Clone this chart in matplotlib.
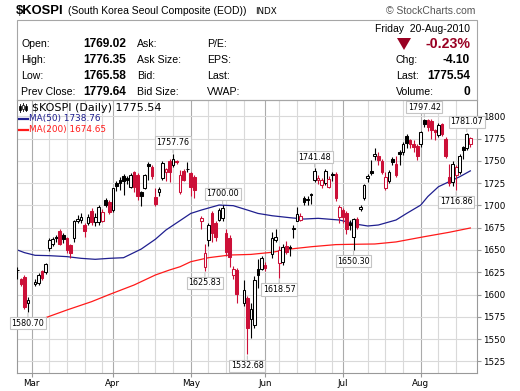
import numpy as np
import pandas as pd
import matplotlib
matplotlib.use("Agg")
import matplotlib.pyplot as plt
from matplotlib.patches import Rectangle, Polygon

dates = ["2010-02-23","2010-02-24","2010-02-25","2010-02-26",
         "2010-03-02","2010-03-03","2010-03-04","2010-03-05","2010-03-08","2010-03-09","2010-03-10","2010-03-11","2010-03-12",
         "2010-03-15","2010-03-16","2010-03-17","2010-03-18","2010-03-19","2010-03-22","2010-03-23","2010-03-24","2010-03-25",
         "2010-03-26","2010-03-29","2010-03-30","2010-03-31",
         "2010-04-01","2010-04-02","2010-04-05","2010-04-06","2010-04-07","2010-04-08","2010-04-09","2010-04-12","2010-04-13",
         "2010-04-14","2010-04-15","2010-04-16","2010-04-19","2010-04-20","2010-04-21","2010-04-22","2010-04-23","2010-04-26",
         "2010-04-27","2010-04-28","2010-04-29","2010-04-30",
         "2010-05-03","2010-05-04","2010-05-06","2010-05-07","2010-05-10","2010-05-11","2010-05-12","2010-05-13","2010-05-14",
         "2010-05-17","2010-05-18","2010-05-19","2010-05-20","2010-05-24","2010-05-25","2010-05-26","2010-05-27","2010-05-28",
         "2010-05-31",
         "2010-06-01","2010-06-03","2010-06-04","2010-06-07","2010-06-08","2010-06-09","2010-06-10","2010-06-11","2010-06-14",
         "2010-06-15","2010-06-16","2010-06-17","2010-06-18","2010-06-21","2010-06-22","2010-06-23","2010-06-24","2010-06-25",
         "2010-06-28","2010-06-29","2010-06-30",
         "2010-07-01","2010-07-02","2010-07-05","2010-07-06","2010-07-07","2010-07-08","2010-07-09","2010-07-12","2010-07-13",
         "2010-07-14","2010-07-15","2010-07-16","2010-07-19","2010-07-20","2010-07-21","2010-07-22","2010-07-23","2010-07-26",
         "2010-07-27","2010-07-28","2010-07-29","2010-07-30",
         "2010-08-02","2010-08-03","2010-08-04","2010-08-05","2010-08-06","2010-08-09","2010-08-10","2010-08-11","2010-08-12",
         "2010-08-13","2010-08-16","2010-08-17","2010-08-18","2010-08-19","2010-08-20"]

opens = [1627,1617,1620,1591,
         1612,1613,1626,1625,1652,1657,1665,1671,1667,
         1663,1655,1663,1682,1684,1678,1680,1694,1681,
         1681,1683,1706,1704,
         1695,1725,1729,1733,1731,1721,1737,1734,1715,
         1720,1747,1743,1709,1715,1731,1737,1750,1745,
         1750,1715,1739,1740.5,
         1736,1732,1682,1631,1661,1692,1680,1684,1686,
         1669,1663,1622,1628,1590,1596,1573,1566,1629,
         1629,
         1633,1645,1661,1635,1637,1654,1653,1673,1683,
         1684,1708,1707.5,1712.5,1729,1728,1723,1725,1721,
         1735,1735,1687,
         1695,1692,1680,1665,1685,1696,1708,1731,1738.5,
         1755,1755,1750,1719,1727,1752,1747,1760,1760,
         1778,1773,1769,1767,
         1769,1796,1796,1795,1784.5,1779,1791,1775,1732,
         1726,1734,1737.5,1765.6,1764,1769.02]

highs = [1631,1619,1622,1597,
         1617,1624,1627,1635,1663,1665,1667,1673,1669,
         1665,1657,1684,1689,1691,1680,1690,1697,1692,
         1700,1696,1708,1706,
         1720,1727,1732,1735,1733,1736,1739,1736,1716,
         1735,1749,1745,1720,1721,1750,1742,1752,1757.76,
         1751,1740,1741,1749,
         1738,1734,1688,1657,1680,1694,1683,1697,1700,
         1674,1667,1632,1630,1616,1598,1590,1621,1640,
         1643,
         1636,1670,1673,1654,1657,1660,1656,1678,1698,
         1692,1710,1710,1714,1741.48,1734,1731,1741,1733,
         1738,1737,1700,
         1697,1694,1684,1686,1687,1700,1724,1735,1751,
         1764,1760,1752,1738,1740,1754,1756,1762,1771,
         1780,1775,1773,1769,
         1784,1797.42,1797,1797,1786,1792,1793,1777,1747,
         1750,1745,1758,1767,1781.07,1776.35]

lows = [1617,1609,1584,1580.70,
        1609,1611,1616,1623,1649,1654,1659,1655,1658,
        1647,1641,1659,1680,1680,1664,1678,1678,1677,
        1678,1681,1698,1690,
        1693,1716,1717,1712,1724,1719,1715,1706,1699,
        1718,1729,1730,1699,1711,1729,1727,1726,1743,
        1747,1713,1727,1738,
        1710,1708,1674,1625.83,1654,1659,1660,1682,1683,
        1643,1631,1617,1590,1587,1532.68,1551,1562,1607,
        1627,
        1626,1641,1659,1618.57,1633,1645,1643,1663,1682,
        1682,1701,1700,1702,1726,1724,1720,1723,1719,
        1727,1705,1680,
        1680,1668,1672,1650.30,1674,1694,1706,1726,1734,
        1751,1745,1735,1717,1725,1745,1732,1745,1757,
        1764,1764,1760,1751,
        1766,1788,1783,1775,1773,1777,1778,1753,1722,
        1722,1716.86,1735,1752,1762,1765.58]

closes = [1628,1612,1586,1594,
          1614,1622,1619,1634,1661,1662,1663,1657,1662,
          1650,1647,1682,1685,1687,1671,1687,1681,1687,
          1698,1693,1701,1693,
          1719,1722,1725,1727,1728,1734,1721,1710,1711,
          1734,1744,1733,1702,1718,1748,1741,1738,1752,
          1749,1734,1729,1741,
          1721,1717,1686,1647,1678,1669,1665,1695,1697,
          1648,1642,1629,1601,1605,1562,1584,1616,1622,
          1641,
          1630,1663,1664,1650,1653,1648,1652,1675,1690,
          1688.5,1704,1706,1712,1739,1731,1728.5,1739,1730,
          1734,1708,1698,
          1687,1674,1678,1685,1676,1698,1723,1733,1736.5,
          1758,1751,1738,1732,1737.5,1749,1734,1757.5,1769,
          1770,1769,1766,1756,
          1782,1791,1788,1785,1782.5,1790,1780,1755,1725,
          1747,1743,1756,1762.5,1779.64,1775.54]

ma50_dates = ["2010-02-23","2010-02-25","2010-03-02","2010-03-08","2010-03-15","2010-03-19","2010-03-25","2010-03-31",
              "2010-04-06","2010-04-13","2010-04-19","2010-04-22","2010-04-28","2010-05-03","2010-05-06","2010-05-13",
              "2010-05-19","2010-05-25","2010-05-28","2010-06-03","2010-06-10","2010-06-16","2010-06-22","2010-06-30",
              "2010-07-07","2010-07-12","2010-07-15","2010-07-22","2010-07-27","2010-08-02","2010-08-04","2010-08-09",
              "2010-08-12","2010-08-17","2010-08-20"]
ma50_vals = [1650,1647,1644,1643.6,1642.5,1640.6,1639.5,1640.6,
             1641.3,1651,1662,1672.4,1683,1691,1694.8,1700.4,
             1699.7,1694.8,1691,1688.4,1686.2,1684.7,1685.5,1683.6,
             1678.8,1676.9,1678,1683.6,1691,1700.4,1710,1721,
             1726.6,1732.2,1738.76]

ma200_dates = ["2010-02-23","2010-03-05","2010-03-15","2010-03-24","2010-03-31","2010-04-09","2010-04-19","2010-04-23",
               "2010-04-28","2010-05-03","2010-05-10","2010-05-18","2010-05-26","2010-06-03","2010-06-10","2010-06-18",
               "2010-06-29","2010-07-05","2010-07-14","2010-07-22","2010-08-03","2010-08-12","2010-08-20"]
ma200_vals = [1566,1574,1582.6,1592,1600,1610.7,1621.9,1627.5,
              1631.2,1636.8,1641.3,1644.3,1645,1647.4,1651,1653.6,
              1656,1656.3,1656.7,1659,1664.9,1669.8,1674.65]

mark_dates = ["2010-02-26","2010-04-26","2010-05-07","2010-05-14","2010-05-25","2010-06-07",
              "2010-06-21","2010-07-06","2010-08-03","2010-08-16","2010-08-19"]
mark_kind = ["low","high","low","high","low","low","high","low","high","low","high"]

month_labels = ["Mar","Apr","May","Jun","Jul","Aug"]
month_starts = ["2010-03-01","2010-04-01","2010-05-03","2010-06-01","2010-07-01","2010-08-02"]
yticks = list(range(1525, 1801, 25))

RED = "#cc1038"
W, H = 520, 391

def fx(x):
    return x / W

def fy(y):
    return 1 - y / H

plt.rcParams['font.family'] = ['DejaVu Sans']
fig = plt.figure(figsize=(5.2, 3.91), dpi=100)
fig.patch.set_facecolor("white")

ax = fig.add_axes([fx(17), fy(373), fx(476.7) - fx(17), fy(100) - fy(373)])

slots = pd.bdate_range("2010-02-23", "2010-08-20")
pos = slots.get_indexer(pd.to_datetime(dates))
o = np.array(opens, float)
h = np.array(highs, float)
l = np.array(lows, float)
c = np.array(closes, float)
prev = np.r_[c[0] - 1, c[:-1]]
cols = np.where(c >= prev, "black", RED)

# grid: weekly mondays, darker month lines
mpos = slots.get_indexer(pd.to_datetime(month_starts))
for d, p in zip(slots, range(len(slots))):
    if d.weekday() == 0 and np.min(np.abs(mpos - p)) > 2:
        ax.axvline(p, color="#d9d9d9", lw=0.8, zorder=0)
for p in mpos:
    ax.axvline(p, color="#ababab", lw=0.8, zorder=0)
for t in yticks:
    ax.axhline(t, color="#d9d9d9", lw=0.8, zorder=0)

ax.plot(slots.get_indexer(pd.to_datetime(ma50_dates)), ma50_vals, color="#1f1f8f", lw=0.9, zorder=2)
ax.plot(slots.get_indexer(pd.to_datetime(ma200_dates)), ma200_vals, color="#ff1a1a", lw=0.9, zorder=2)

w = 0.75
ax.vlines(pos, l, h, colors=cols, lw=0.8, zorder=3)
for i in range(len(pos)):
    lo = min(o[i], c[i])
    ht = max(abs(c[i] - o[i]), 0.9)
    fc = cols[i] if c[i] < o[i] else "white"
    ax.add_patch(Rectangle((pos[i] - w / 2, lo), w, ht, fc=fc, ec=cols[i], lw=0.75, zorder=4))

# high / low callouts
for d, k in zip(mark_dates, mark_kind):
    i = dates.index(d)
    v = h[i] if k == "high" else l[i]
    off = 5 if k == "high" else -5
    ax.annotate("%.2f" % v, xy=(pos[i], v), xytext=(0, off), textcoords="offset points",
                ha="center", va="bottom" if k == "high" else "top", fontsize=5.8,
                bbox=dict(boxstyle="square,pad=0.2", fc="white", ec="#c4c4c4", lw=0.8),
                arrowprops=dict(arrowstyle="-", color="#c4c4c4", lw=0.8, shrinkA=0, shrinkB=1),
                zorder=6)

ax.set_xlim(-0.1, 129.8)
ax.set_ylim(1511.9, 1818.3)
ax.yaxis.tick_right()
ax.set_yticks(yticks)
ax.set_yticklabels([str(t) for t in yticks], fontsize=6.3)
ax.set_xticks(mpos)
ax.set_xticklabels(month_labels, fontsize=6.3)
ax.tick_params(length=3, color="#999999", pad=1.5)
for s in ax.spines.values():
    s.set_color("#999999")
    s.set_linewidth(0.8)

# legend in the top-left of the plot
tA = ax.transAxes
def ax_x(px):
    return (px - 17) / (476.7 - 17)
def ax_y(py):
    return (373 - py) / (373 - 100)
for dx, y0, y1, b0, b1, filled in [(19.5, 104, 112, 106, 110, True), (22.5, 103, 111, 105, 109, False), (25.5, 104, 111, 105.5, 109.5, True)]:
    ax.plot([ax_x(dx), ax_x(dx)], [ax_y(y0), ax_y(y1)], color="black", lw=0.6, transform=tA, zorder=7)
    ax.add_patch(Rectangle((ax_x(dx - 1), ax_y(b1)), ax_x(dx + 1) - ax_x(dx - 1), ax_y(b0) - ax_y(b1),
                           fc="black" if filled else "white", ec="black", lw=0.5, transform=tA, zorder=8))
ax.text(ax_x(32.5), ax_y(107.7), "$KOSPI (Daily) 1775.54", fontsize=8, va="center", transform=tA, zorder=8)
ax.plot([ax_x(19), ax_x(28)], [ax_y(119), ax_y(119)], color="#1f1f8f", lw=1.6, transform=tA, zorder=8)
ax.text(ax_x(29), ax_y(119), "MA(50) 1738.76", fontsize=6.4, va="center", color="#1f1f8f", transform=tA, zorder=8)
ax.plot([ax_x(19), ax_x(28)], [ax_y(129.5), ax_y(129.5)], color="#ff1a1a", lw=1.6, transform=tA, zorder=8)
ax.text(ax_x(29), ax_y(129.5), "MA(200) 1674.65", fontsize=6.4, va="center", color="#ff1a1a", transform=tA, zorder=8)

# header
lib = "Liberation Sans"
fig.text(fx(15.5), fy(11.5), "$KOSPI", fontsize=9.4, fontweight="bold", family=lib, va="center")
fig.text(fx(67.5), fy(11.5), "(South Korea Seoul Composite (EOD))", fontsize=7.5, family=lib, va="center")
fig.text(fx(255), fy(11.5), "INDX", fontsize=6.3, family="DejaVu Sans", va="center")
fig.text(fx(475), fy(11.5), "\u00a9 StockCharts.com", fontsize=7.5, family=lib, va="center", ha="right", color="#555555")

fig.add_artist(Rectangle((fx(17), fy(100)), fx(476.7) - fx(17), fy(20) - fy(100),
                         transform=fig.transFigure, fill=False, ec="#a6a6a6", lw=0.8))

fig.text(fx(470), fy(28.5), "Friday  20-Aug-2010", fontsize=7.5, family=lib, va="center", ha="right")

rows_y = [43.8, 60, 76, 92]
left_lab = ["Open:", "High:", "Low:", "Prev Close:"]
left_val = ["1769.02", "1776.35", "1765.58", "1779.64"]
mid_lab = ["Ask:", "Ask Size:", "Bid:", "Bid Size:"]
mid2_lab = ["P/E:", "EPS:", "Last:", "VWAP:"]
right_lab = ["", "Chg:", "Last:", "Volume:"]
right_val = ["", "-4.10", "1775.54", "0"]
for y, a, b, m, m2, r, rv in zip(rows_y, left_lab, left_val, mid_lab, mid2_lab, right_lab, right_val):
    fig.text(fx(21), fy(y), a, fontsize=7.6, family=lib, va="center")
    fig.text(fx(126), fy(y), b, fontsize=8.6, fontweight="bold", family=lib, va="center", ha="right")
    fig.text(fx(137), fy(y), m, fontsize=7.6, family=lib, va="center")
    fig.text(fx(207), fy(y), m2, fontsize=7.6, family=lib, va="center")
    if r:
        fig.text(fx(396), fy(y), r, fontsize=7.6, family=lib, va="center")
        fig.text(fx(470), fy(y), rv, fontsize=8.6, fontweight="bold", family=lib, va="center", ha="right")

fig.add_artist(Polygon([(fx(397), fy(38)), (fx(411), fy(38)), (fx(404), fy(50))], closed=True,
                       transform=fig.transFigure, fc="#990022", ec="none"))
fig.text(fx(470), fy(43.8), "-0.23%", fontsize=10.2, fontweight="bold", family=lib, va="center", ha="right",
         color="#990022")

fig.savefig("out.png", dpi=100)
